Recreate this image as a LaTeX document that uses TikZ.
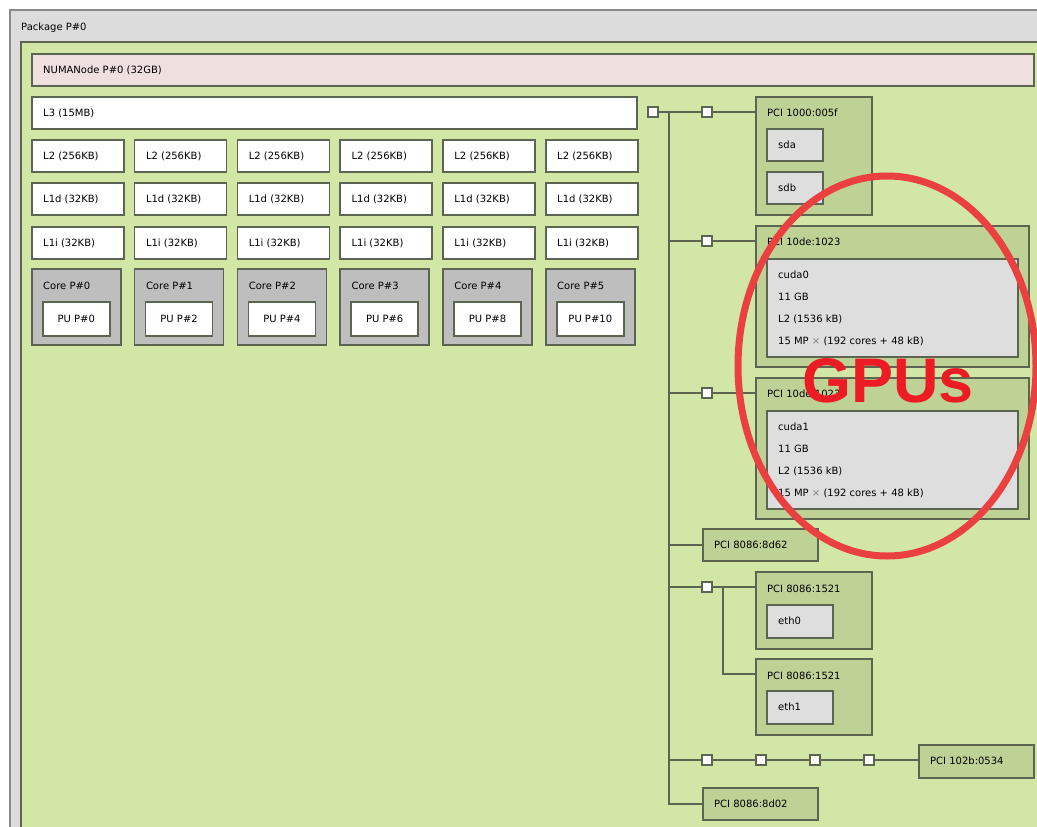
\documentclass[tikz,border=0pt]{standalone}
\usepackage{fontspec}
\setmainfont{DejaVu Sans}
\newfontfamily\markfont{Liberation Sans}
\usetikzlibrary{calc}
\definecolor{pkgfill}{HTML}{DCDCDC}
\definecolor{pkgedge}{HTML}{8A8A8A}
\definecolor{grpfill}{HTML}{D2E6A5}
\definecolor{numafill}{HTML}{EFDFDE}
\definecolor{corefill}{HTML}{BEBEBE}
\definecolor{pcifill}{HTML}{BED296}
\definecolor{osfill}{HTML}{DEDEDE}
\definecolor{edgec}{HTML}{5C6452}
\definecolor{ringred}{HTML}{EA4040}
\definecolor{markred}{HTML}{ED1C24}
\begin{document}
\begin{tikzpicture}[x=1pt,y=-1pt,
	box/.style={draw=edgec,line width=1.6pt,anchor=north west,inner sep=0pt,font=\fontsize{10}{12}\selectfont},
	txt/.style={anchor=west,inner sep=0pt,text height=7.3pt,text depth=0pt,font=\fontsize{10}{12}\selectfont},
	sq/.style={draw=edgec,line width=1.2pt,fill=white,minimum size=10pt,inner sep=0pt},
	wire/.style={draw=edgec,line width=1.6pt}]
	\fill[white] (0,0) rectangle (1037,827);
	\clip (0,0) rectangle (1037,827);
	% package and group
	\node[box,draw=pkgedge,line width=2pt,fill=pkgfill,minimum width=1040pt,minimum height=830pt] (pkg) at (9,9) {};
	\node[txt] at ($(pkg.north west)+(12,18)$) {Package P\#0};
	\node[box,fill=grpfill,minimum width=1030pt,minimum height=800pt] (grp) at (20,41) {};
	\node[box,fill=numafill,minimum width=1002pt,minimum height=32pt] (numa) at (31,53) {};
	\node[txt] at ($(numa.north west)+(12,17)$) {NUMANode P\#0 (32GB)};
	\node[box,fill=white,minimum width=605pt,minimum height=32pt] (l3) at (31,96) {};
	\node[txt] at ($(l3.north west)+(12,17)$) {L3 (15MB)};
	% caches and cores
	\foreach \i in {0,...,5} {
		\pgfmathsetmacro{\xx}{31+102.8*\i}
		\pgfmathtruncatemacro{\pu}{2*\i}
		\node[box,fill=white,minimum width=92pt,minimum height=32pt] (l2-\i) at (\xx,139) {};
		\node[txt] at ($(l2-\i.north west)+(12,17)$) {L2 (256KB)};
		\node[box,fill=white,minimum width=92pt,minimum height=32pt] (l1d-\i) at (\xx,182) {};
		\node[txt] at ($(l1d-\i.north west)+(12,17)$) {L1d (32KB)};
		\node[box,fill=white,minimum width=92pt,minimum height=32pt] (l1i-\i) at (\xx,226) {};
		\node[txt] at ($(l1i-\i.north west)+(12,17)$) {L1i (32KB)};
		\node[box,fill=corefill,minimum width=89pt,minimum height=76pt] (core-\i) at (\xx,268) {};
		\node[txt] at ($(core-\i.north west)+(12,18)$) {Core P\#\i};
		\node[box,fill=white,minimum width=67pt,minimum height=34pt] (pu-\i) at ($(core-\i.north west)+(11,33)$) {PU P\#\pu};
	}
	% pci tree
	\node[sq] (s1) at (653,112) {};
	\node[sq] (s2) at (707,112) {};
	\node[sq] (s3) at (707,241) {};
	\node[sq] (s4) at (707,393) {};
	\node[sq] (s5) at (707,587) {};
	\node[sq] (s6) at (707,760) {};
	\node[sq] (s7) at (761,760) {};
	\node[sq] (s8) at (815,760) {};
	\node[sq] (s9) at (869,760) {};
	\coordinate (bt) at (669,112);
	\coordinate (bb) at (669,803);
	\coordinate (sbt) at (723,587);
	\coordinate (sbb) at (723,674);
	% storage
	\node[box,fill=pcifill,minimum width=116pt,minimum height=118pt] (sata) at (755,96) {};
	\node[txt] at ($(sata.north west)+(12,17)$) {PCI 1000:005f};
	\node[box,fill=osfill,minimum width=56pt,minimum height=32pt] (sda) at (766,128) {};
	\node[txt] at ($(sda.north west)+(12,17)$) {sda};
	\node[box,fill=osfill,minimum width=56pt,minimum height=32pt] (sdb) at (766,171) {};
	\node[txt] at ($(sdb.north west)+(12,17)$) {sdb};
	% gpus
	\foreach \g/\yy in {0/225,1/377} {
		\node[box,fill=pcifill,minimum width=273pt,minimum height=141pt] (gpu-\g) at (755,\yy) {};
		\node[txt] at ($(gpu-\g.north west)+(12,17)$) {PCI 10de:1023};
		\node[box,fill=osfill,minimum width=251pt,minimum height=98pt] (cuda-\g) at ($(gpu-\g.north west)+(11,33)$) {};
		\node[txt] at ($(cuda-\g.north west)+(12,17)$) {cuda\g};
		\node[txt] at ($(cuda-\g.north west)+(12,39)$) {11 GB};
		\node[txt] at ($(cuda-\g.north west)+(12,61)$) {L2 (1536 kB)};
		\node[txt] at ($(cuda-\g.north west)+(12,83)$) {15 MP {\color{gray}×} (192 cores + 48 kB)};
	}
	% other devices
	\node[box,fill=pcifill,minimum width=115pt,minimum height=32pt] (p8d62) at (702,528) {};
	\node[txt] at ($(p8d62.north west)+(12,17)$) {PCI 8086:8d62};
	\node[box,fill=pcifill,minimum width=116pt,minimum height=77pt] (nic-0) at (755,571) {};
	\node[txt] at ($(nic-0.north west)+(12,18)$) {PCI 8086:1521};
	\node[box,fill=osfill,minimum width=66pt,minimum height=33pt] (eth-0) at (766,604) {};
	\node[txt] at ($(eth-0.north west)+(12,17)$) {eth0};
	\node[box,fill=pcifill,minimum width=116pt,minimum height=76pt] (nic-1) at (755,658) {};
	\node[txt] at ($(nic-1.north west)+(12,18)$) {PCI 8086:1521};
	\node[box,fill=osfill,minimum width=66pt,minimum height=33pt] (eth-1) at (766,690) {};
	\node[txt] at ($(eth-1.north west)+(12,17)$) {eth1};
	\node[box,fill=pcifill,minimum width=115pt,minimum height=33pt] (vga) at (918,744) {};
	\node[txt] at ($(vga.north west)+(12,17)$) {PCI 102b:0534};
	\node[box,fill=pcifill,minimum width=115pt,minimum height=32pt] (p8d02) at (702,787) {};
	\node[txt] at ($(p8d02.north west)+(12,17)$) {PCI 8086:8d02};
	% links
	\draw[wire] (s1) -- (s2) -- (s2 -| sata.west);
	\draw[wire] (bt) -- (bb |- p8d02.west) -- (p8d02.west);
	\draw[wire] (bt |- s3) -- (s3) -- (s3 -| gpu-0.west);
	\draw[wire] (bt |- s4) -- (s4) -- (s4 -| gpu-1.west);
	\draw[wire] (bt |- p8d62.west) -- (p8d62.west);
	\draw[wire] (bt |- s5) -- (s5) -- (s5 -| nic-0.west);
	\draw[wire] (sbt) -- (sbb) -- (sbb -| nic-1.west);
	\draw[wire] (bt |- s6) -- (s6) -- (s7) -- (s8) -- (s9) -- (s9 -| vga.west);
	\foreach \s in {s1,...,s9} \node[sq] at (\s) {};
	% annotation
	\draw[ringred,line width=7pt] (887,366) ellipse [x radius=149, y radius=190];
	\node[inner sep=0pt,text=markred,font=\markfont\bfseries\fontsize{63}{63}\selectfont] (gpus) at (888,381) {GPUs};
\end{tikzpicture}
\end{document}
